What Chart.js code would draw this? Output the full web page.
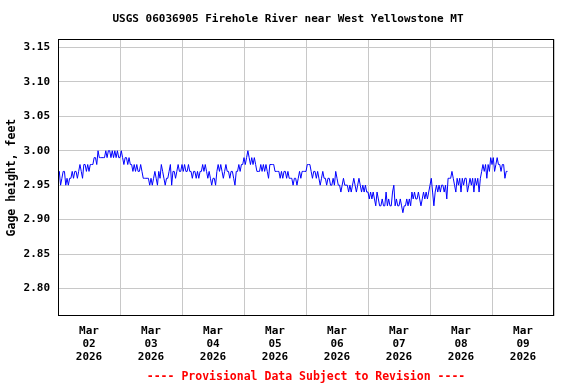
<!DOCTYPE html>
<html>
<head>
<meta charset="utf-8">
<script src="https://cdn.jsdelivr.net/npm/chart.js@4/dist/chart.umd.min.js"></script>
<style>
  html, body { margin: 0; padding: 0; background: #ffffff; }
  #wrap { width: 576px; height: 384px; }
</style>
</head>
<body>
<div id="wrap"><canvas id="c" width="576" height="384"></canvas></div>
<script>
// Gage height (feet), half-hourly readings from the picture, one array per day
const mar02 = [2.96,2.97,2.95,2.96,2.97,2.97,2.95,2.96,2.95,2.96,2.96,2.97,2.96,2.97,2.97,2.96,2.97,2.98,2.97,2.96,2.98,2.98,2.97,2.98,2.97,2.98,2.98,2.98,2.99,2.99,2.98,3.00,2.99,2.99,2.99,2.99,2.99,3.00,2.99,3.00,3.00,2.99,3.00,2.99,3.00,2.99,3.00,2.99];
const mar03 = [2.99,3.00,2.99,2.98,2.99,2.99,2.98,2.99,2.98,2.98,2.97,2.98,2.97,2.98,2.97,2.97,2.98,2.97,2.96,2.96,2.96,2.96,2.96,2.95,2.96,2.95,2.96,2.97,2.96,2.95,2.97,2.96,2.98,2.97,2.96,2.95,2.96,2.96,2.97,2.98,2.95,2.97,2.97,2.96,2.97,2.98,2.97,2.97];
const mar04 = [2.98,2.97,2.98,2.97,2.97,2.98,2.97,2.97,2.96,2.97,2.97,2.96,2.97,2.96,2.97,2.97,2.98,2.97,2.98,2.97,2.96,2.97,2.96,2.95,2.96,2.96,2.95,2.97,2.98,2.97,2.98,2.97,2.96,2.97,2.98,2.97,2.97,2.96,2.97,2.97,2.96,2.95,2.97,2.97,2.98,2.97,2.98,2.98];
const mar05 = [2.99,2.98,2.99,3.00,2.99,2.98,2.99,2.98,2.99,2.98,2.97,2.97,2.97,2.98,2.97,2.98,2.97,2.98,2.97,2.96,2.98,2.98,2.98,2.98,2.97,2.97,2.97,2.97,2.96,2.97,2.96,2.97,2.97,2.96,2.97,2.96,2.96,2.96,2.95,2.96,2.96,2.95,2.96,2.97,2.96,2.97,2.97,2.97];
const mar06 = [2.97,2.98,2.98,2.98,2.97,2.96,2.97,2.97,2.96,2.97,2.96,2.95,2.96,2.97,2.96,2.96,2.95,2.96,2.96,2.95,2.95,2.96,2.95,2.97,2.96,2.95,2.95,2.94,2.95,2.96,2.95,2.95,2.95,2.94,2.95,2.94,2.95,2.96,2.95,2.94,2.95,2.96,2.95,2.94,2.95,2.94,2.95,2.94];
const mar07 = [2.94,2.93,2.94,2.93,2.94,2.93,2.92,2.94,2.93,2.92,2.92,2.93,2.92,2.92,2.94,2.92,2.93,2.92,2.92,2.94,2.95,2.92,2.93,2.92,2.92,2.93,2.92,2.91,2.92,2.92,2.93,2.92,2.93,2.92,2.94,2.93,2.94,2.93,2.93,2.94,2.93,2.92,2.93,2.94,2.93,2.94,2.93,2.94];
const mar08 = [2.95,2.96,2.94,2.92,2.94,2.95,2.94,2.95,2.94,2.95,2.95,2.94,2.95,2.93,2.96,2.96,2.96,2.97,2.96,2.95,2.94,2.96,2.95,2.96,2.94,2.96,2.95,2.96,2.96,2.94,2.95,2.96,2.95,2.96,2.94,2.96,2.95,2.96,2.94,2.96,2.97,2.98,2.97,2.98,2.96,2.98,2.97,2.99];
const mar09 = [2.98,2.99,2.97,2.98,2.99,2.98,2.98,2.97,2.98,2.98,2.96,2.97,2.97];

const days = [mar02, mar03, mar04, mar05, mar06, mar07, mar08, mar09];
const dayLabels = ['02','03','04','05','06','07','08','09'];
const monthLabel = 'Mar';
const yearLabel = '2026';
const yTicks = [2.80, 2.85, 2.90, 2.95, 3.00, 3.05, 3.10, 3.15];
const stepHours = 0.5;

const title = 'USGS 06036905 Firehole River near West Yellowstone MT';
const yTitle = 'Gage height, feet';
const footer = '---- Provisional Data Subject to Revision ----';

const points = [];
days.forEach((arr, d) => arr.forEach((v, i) => points.push({ x: d * 24 + i * stepHours, y: v })));

const FONT = "'DejaVu Sans Mono', 'Liberation Mono', monospace";

const framePlugin = {
  id: 'frame',
  afterDatasetsDraw(chart) {
    const { ctx, chartArea: a } = chart;
    ctx.save();
    ctx.strokeStyle = '#000000';
    ctx.lineWidth = 1;
    const l = Math.round(a.left) + 0.5, t = Math.round(a.top) + 0.5;
    const r = Math.round(a.right) - 0.5, b = Math.round(a.bottom) - 0.5;
    ctx.strokeRect(l, t, r - l, b - t);
    ctx.restore();
  },
  afterDraw(chart) {
    const { ctx, chartArea: a } = chart;
    ctx.save();
    ctx.font = "bold 11.5px " + FONT;
    ctx.fillStyle = '#ff0000';
    ctx.textAlign = 'center';
    ctx.textBaseline = 'middle';
    ctx.fillText(footer, (a.left + a.right) / 2, 377);
    ctx.restore();
  }
};

new Chart(document.getElementById('c'), {
  type: 'line',
  data: {
    datasets: [{
      data: points,
      borderColor: '#0000ff',
      borderWidth: 1,
      pointRadius: 0,
      tension: 0,
      fill: false
    }]
  },
  options: {
    responsive: false,
    animation: false,
    devicePixelRatio: 1,
    layout: { padding: { left: 0, right: 0, top: 0, bottom: 0 } },
    plugins: {
      legend: { display: false },
      tooltip: { enabled: false },
      title: {
        display: true,
        text: title,
        color: '#000000',
        font: { family: FONT, size: 11, weight: 'bold', lineHeight: 1.2 },
        padding: { top: 13, bottom: 13 }
      }
    },
    scales: {
      x: {
        type: 'linear',
        position: 'bottom',
        min: 0,
        max: days.length * 24,
        afterBuildTicks: (s) => {
          const t = [];
          for (let h = 0; h <= days.length * 24; h += 12) t.push({ value: h });
          s.ticks = t;
        },
        afterFit: (s) => { s.height = 68; },
        border: { display: false },
        grid: {
          drawTicks: false,
          lineWidth: 1,
          color: (c) => (c.tick && c.tick.value % 24 === 0) ? '#c8c8c8' : 'rgba(0,0,0,0)'
        },
        ticks: {
          autoSkip: false,
          maxRotation: 0,
          minRotation: 0,
          padding: 8,
          color: '#000000',
          font: { family: FONT, size: 11, weight: 'bold', lineHeight: 1.21 },
          callback: (v) => {
            if (v % 24 !== 12) return '';
            const d = Math.floor(v / 24);
            return [monthLabel, dayLabels[d], yearLabel];
          }
        }
      },
      y: {
        type: 'linear',
        position: 'left',
        min: 2.76,
        max: 3.162,
        afterBuildTicks: (s) => { s.ticks = yTicks.map(v => ({ value: v })); },
        afterFit: (s) => { s.width = 58; },
        border: { display: false },
        grid: { drawTicks: false, color: '#c8c8c8', lineWidth: 1 },
        ticks: {
          padding: 8,
          color: '#000000',
          font: { family: FONT, size: 11, weight: 'bold' },
          callback: (v) => Number(v).toFixed(2)
        },
        title: {
          display: true,
          text: yTitle,
          color: '#000000',
          font: { family: FONT, size: 11.5, weight: 'bold', lineHeight: 1.2 },
          padding: { top: 5, bottom: 0 }
        }
      },
      yRight: {
        type: 'linear',
        position: 'right',
        min: 2.76,
        max: 3.162,
        afterFit: (s) => { s.width = 22; },
        border: { display: false },
        grid: { display: false, drawTicks: false },
        ticks: { display: false }
      }
    }
  },
  plugins: [framePlugin]
});
</script>
</body>
</html>
